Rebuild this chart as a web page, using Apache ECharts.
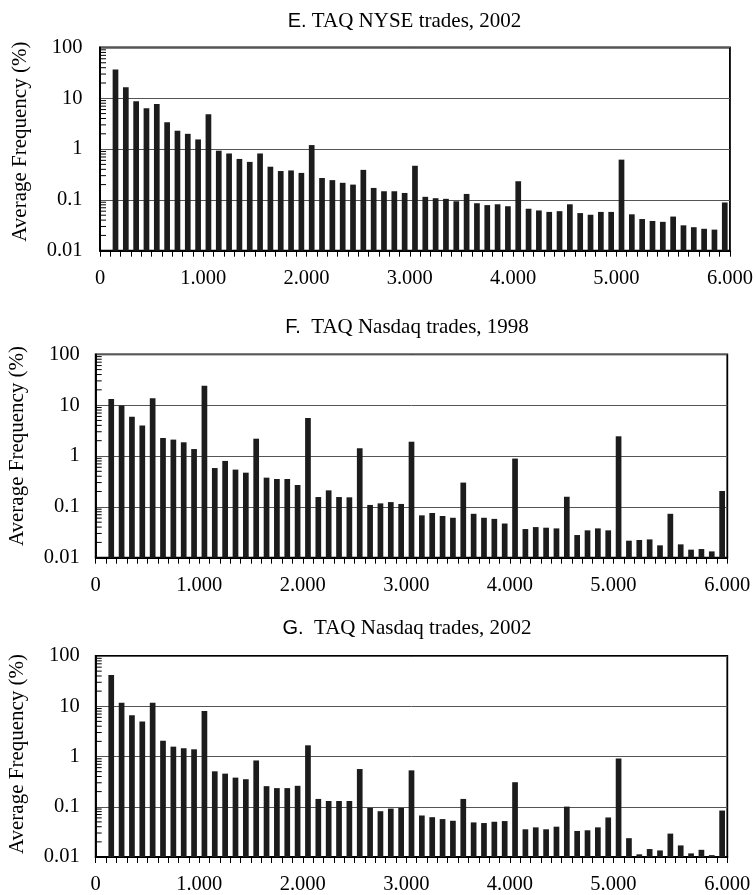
<!DOCTYPE html>
<html>
<head>
<meta charset="utf-8">
<script src="https://cdn.jsdelivr.net/npm/echarts@6/dist/echarts.min.js"></script>
<style>
html,body{margin:0;padding:0;background:#fff;}
#chart{width:756px;height:895px;}
</style>
</head>
<body>
<div id="chart"></div>
<script>
// Trade sizes (shares) of the bars
const tradeSizes = [100,200,300,400,500,600,700,800,900,1000,
  1100,1200,1300,1400,1500,1600,1700,1800,1900,2000,
  2100,2200,2300,2400,2500,2600,2700,2800,2900,3000,
  3100,3200,3300,3400,3500,3600,3700,3800,3900,4000,
  4100,4200,4300,4400,4500,4600,4700,4800,4900,5000,
  5100,5200,5300,5400,5500,5600,5700,5800,5900,6000];
// Category slots of the x axis (slot "0" has no bar)
const xCategories = ['0'].concat(tradeSizes.map(String));

// Panel E: TAQ NYSE trades, 2002 (average frequency, %)
const nyse2002 = [36.8,16.5,8.7,6.35,7.7,3.36,2.3,2.0,1.55,4.83,
  0.93,0.82,0.64,0.56,0.82,0.45,0.37,0.38,0.34,1.2,
  0.27,0.245,0.217,0.2,0.39,0.172,0.148,0.148,0.137,0.47,
  0.115,0.108,0.105,0.094,0.131,0.086,0.079,0.082,0.075,0.233,
  0.067,0.062,0.058,0.06,0.082,0.055,0.051,0.058,0.058,0.62,
  0.052,0.042,0.0385,0.037,0.047,0.0316,0.029,0.027,0.026,0.089];
// Panel F: TAQ Nasdaq trades, 1998
const nasdaq1998 = [13.2,9.8,5.9,4.0,13.6,2.26,2.1,1.86,1.37,24.2,
  0.58,0.80,0.54,0.47,2.19,0.375,0.353,0.353,0.269,5.6,
  0.156,0.211,0.156,0.154,1.42,0.109,0.117,0.124,0.114,1.91,
  0.068,0.0757,0.066,0.061,0.30,0.073,0.061,0.058,0.047,0.89,
  0.0366,0.040,0.0389,0.0377,0.158,0.0279,0.0345,0.0377,0.0345,2.44,
  0.0216,0.0223,0.0229,0.0175,0.073,0.0183,0.0144,0.0148,0.0133,0.205];
// Panel G: TAQ Nasdaq trades, 2002
const nasdaq2002 = [41.7,11.7,6.6,4.96,11.7,2.06,1.57,1.46,1.39,8.0,
  0.507,0.456,0.38,0.353,0.834,0.257,0.235,0.235,0.261,1.67,
  0.143,0.130,0.130,0.130,0.563,0.095,0.0815,0.092,0.095,0.53,
  0.067,0.062,0.0568,0.0526,0.143,0.0488,0.0474,0.0503,0.0519,0.308,
  0.0356,0.0389,0.0356,0.0401,0.1007,0.033,0.034,0.0389,0.0612,0.913,
  0.0237,0.0113,0.0144,0.0135,0.0292,0.017,0.0118,0.0139,0.0109,0.084];

// Tick labels
const xLabelValues = [0,1000,2000,3000,4000,5000,6100];
const xLabelText = ['0','1.000','2.000','3.000','4.000','5.000','6.000'];
const yTickLabels = ['0.01','0.1','1','10','100'];
const minorMultipliers = [2,3,4,5,6,7,8,9];
const decades = [0.01,0.1,1,10];

const panelTitles = [
  {prefix:'E.', rest:' TAQ NYSE trades, 2002'},
  {prefix:'F.', rest:'  TAQ Nasdaq trades, 1998'},
  {prefix:'G.', rest:'  TAQ Nasdaq trades, 2002'}
];
const panelData = [nyse2002, nasdaq1998, nasdaq2002];
const yTitle = 'Average Frequency (%)';

const serif = 'Liberation Serif';
const grids = [
  {left:100, top:47.5, width:630.7, height:203.2, yMargin:17.5, titleX:404.5, titleY:21.5, yTitleX:20, yTitleY:141.7},
  {left:95.7, top:354.3, width:631.6, height:203.4, yMargin:16, titleX:407, titleY:327.5, yTitleX:17, yTitleY:446},
  {left:95.7, top:656, width:631.6, height:203.3, yMargin:16, titleX:407, titleY:628, yTitleX:17, yTitleY:754}
];

const minorTicks = [];
decades.forEach(d => minorMultipliers.forEach(m => minorTicks.push(+(d*m).toPrecision(3))));

const option = {
  animation:false,
  backgroundColor:'#fff',
  grid: grids.map(g => ({left:g.left, top:g.top, width:g.width, height:g.height,
    show:true, borderColor:'#000', borderWidth:1.8, containLabel:false})),
  xAxis: [],
  yAxis: [],
  series: [],
  graphic: []
};

grids.forEach((g, i) => {
  option.xAxis.push({
    type:'category', gridIndex:i, data:xCategories, boundaryGap:true, position:'bottom',
    axisLine:{show:true, lineStyle:{color:'#000', width:1.8}},
    axisTick:{show:true, interval:0, length:6, inside:false, lineStyle:{color:'#000', width:1}},
    axisLabel:{show:false}, splitLine:{show:false}
  });
  option.xAxis.push({
    type:'value', gridIndex:i, min:0, max:6100, position:'bottom',
    axisLine:{show:false}, axisTick:{show:false}, splitLine:{show:false},
    axisLabel:{show:true, customValues:xLabelValues,
      formatter: v => { const k = xLabelValues.indexOf(v); return k >= 0 ? xLabelText[k] : ''; },
      fontFamily:serif, fontSize:20.5, color:'#000', margin:17}
  });
  option.yAxis.push({
    type:'log', logBase:10, gridIndex:i, min:0.01, max:100, splitNumber:4, startValue:0.01,
    axisLine:{show:true, lineStyle:{color:'#000', width:1.8}},
    axisTick:{show:false},
    splitLine:{show:true, lineStyle:{color:'#555', width:1}},
    axisLabel:{fontFamily:serif, fontSize:20.5, color:'#000', margin:g.yMargin,
      formatter: v => yTickLabels[Math.round(Math.log10(v)) + 2]}
  });
  option.series.push({
    type:'bar', xAxisIndex:2*i, yAxisIndex:i, barWidth:5.7,
    data: tradeSizes.map((s, k) => [String(s), panelData[i][k]]),
    itemStyle:{color:'#1c1c1c'}, silent:true
  });
  option.series.push({
    type:'custom', xAxisIndex:2*i, yAxisIndex:i, silent:true, clip:false, z:5,
    data: minorTicks.map(v => [0, v]),
    encode:{x:0, y:1},
    renderItem: (params, api) => {
      const y = api.coord([0, api.value(1)])[1];
      const x0 = params.coordSys.x;
      return {type:'line', shape:{x1:x0, y1:y, x2:x0 + 6, y2:y},
        style:{stroke:'#000', lineWidth:1}};
    }
  });
  option.graphic.push({
    type:'text', x:g.titleX, y:g.titleY, silent:true,
    style:{text:'{a|' + panelTitles[i].prefix + '}{b|' + panelTitles[i].rest + '}',
      align:'center', verticalAlign:'middle',
      rich:{a:{fontFamily:'Liberation Sans', fontSize:20, fill:'#000'},
            b:{fontFamily:serif, fontSize:21, fill:'#000'}}}
  });
  option.graphic.push({
    type:'text', x:g.yTitleX, y:g.yTitleY, rotation:Math.PI/2, silent:true,
    style:{text:yTitle, fontFamily:serif, fontSize:21, fill:'#000', align:'center', verticalAlign:'middle'}
  });
});

const chart = echarts.init(document.getElementById('chart'), null, {renderer:'canvas'});
chart.setOption(option);
</script>
</body>
</html>
